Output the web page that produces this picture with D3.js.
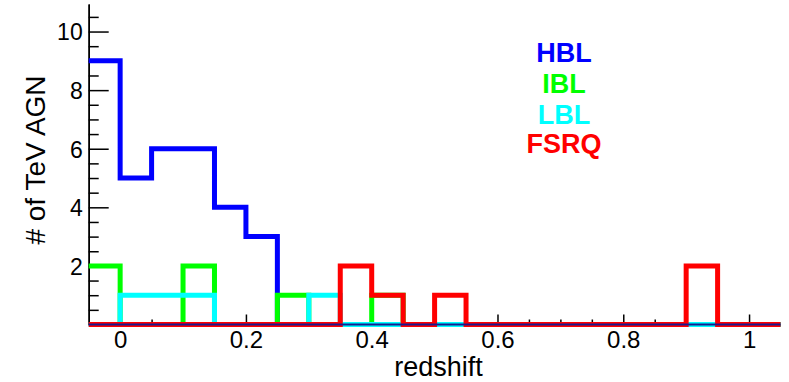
<!DOCTYPE html>
<html>
<head>
<meta charset="utf-8">
<script src="https://cdn.jsdelivr.net/npm/d3@7"></script>
<style>
  html, body { margin: 0; padding: 0; background: #fff; }
  svg { display: block; font-family: "Liberation Sans", Arial, Helvetica, sans-serif; }
</style>
</head>
<body>
<svg id="chart" width="789" height="382"></svg>
<script>
// Redshift bins (lower edges), width 0.05, spanning the x range -0.05 .. 1.05
const binLow = [-0.05, 0, 0.05, 0.1, 0.15, 0.2, 0.25, 0.3, 0.35, 0.4, 0.45,
                0.5, 0.55, 0.6, 0.65, 0.7, 0.75, 0.8, 0.85, 0.9, 0.95, 1.0];
const binWidth = 0.05;

// Counts of TeV AGN per redshift bin, one array per source class
const hbl  = [9, 5, 6, 6, 4, 3, 0, 0, 0, 0, 0, 0, 0, 0, 0, 0, 0, 0, 0, 0, 0, 0];
const ibl  = [2, 0, 0, 2, 0, 0, 1, 0, 0, 1, 0, 0, 0, 0, 0, 0, 0, 0, 0, 0, 0, 0];
const lbl  = [0, 1, 1, 1, 0, 0, 0, 1, 0, 0, 0, 0, 0, 0, 0, 0, 0, 0, 0, 0, 0, 0];
const fsrq = [0, 0, 0, 0, 0, 0, 0, 0, 2, 1, 0, 1, 0, 0, 0, 0, 0, 0, 0, 2, 0, 0];

const seriesNames  = ["HBL", "IBL", "LBL", "FSRQ"];
const seriesColors = ["#0000ff", "#00ff00", "#00ffff", "#ff0000"];

// Axis ticks and labels
const xMajorTicks = [0, 0.2, 0.4, 0.6, 0.8, 1];
const xMinorTicks = [0.05, 0.1, 0.15, 0.25, 0.3, 0.35, 0.45, 0.5, 0.55, 0.65, 0.7, 0.75, 0.85, 0.9, 0.95];
const yMajorTicks = [0, 2, 4, 6, 8, 10];
const yMinorTicks = [0.5, 1, 1.5, 2.5, 3, 3.5, 4.5, 5, 5.5, 6.5, 7, 7.5, 8.5, 9, 9.5, 10.5];
const xTitle = "redshift";
const yTitle = "# of TeV AGN";

const svg = d3.select("#chart");
svg.append("rect").attr("width", 789).attr("height", 382).attr("fill", "#fff");

const plotLeft = 88.7, plotRight = 780.5, plotBottom = 324.5, plotTop = 4;
const x = d3.scaleLinear().domain([-0.05, 1.05]).range([plotLeft, plotRight]);
const y = d3.scaleLinear().domain([0, 10.94]).range([plotBottom, plotTop]);

// ---- y axis: ticks point into the frame, labels on the left
const yAxisMinor = d3.axisLeft(y).tickValues(yMinorTicks).tickSizeInner(-10).tickSizeOuter(0).tickFormat("");
const yAxisMajor = d3.axisLeft(y).tickValues(yMajorTicks).tickSizeInner(-20).tickSizeOuter(0)
  .tickPadding(6).tickFormat(d3.format("d"));

const gyMinor = svg.append("g").attr("transform", `translate(${plotLeft},0)`).call(yAxisMinor);
const gy = svg.append("g").attr("transform", `translate(${plotLeft},0)`).call(yAxisMajor);
[gyMinor, gy].forEach(g => {
  g.select(".domain").attr("stroke", "#000").attr("stroke-width", 1.5);
  g.selectAll(".tick line").attr("stroke", "#000").attr("stroke-width", 1.5);
});
gy.selectAll(".tick text")
  .attr("font-size", 23).attr("fill", "#000")
  .attr("font-family", "Liberation Sans, Arial, sans-serif")
  .attr("dy", "0.36em");
gy.selectAll(".tick").filter(d => d === 0).select("text").remove();

// ---- x axis: ticks point up, labels below
const xAxisMinor = d3.axisBottom(x).tickValues(xMinorTicks).tickSizeInner(-5).tickSizeOuter(0).tickFormat("");
const xAxisMajor = d3.axisBottom(x).tickValues(xMajorTicks).tickSizeInner(-10).tickSizeOuter(0)
  .tickPadding(6).tickFormat(d3.format("~g"));

const gxMinor = svg.append("g").attr("transform", `translate(0,${plotBottom})`).call(xAxisMinor);
const gx = svg.append("g").attr("transform", `translate(0,${plotBottom})`).call(xAxisMajor);
[gxMinor, gx].forEach(g => {
  g.select(".domain").attr("stroke", "#000").attr("stroke-width", 1.5);
  g.selectAll(".tick line").attr("stroke", "#000").attr("stroke-width", 1.5);
});
gx.selectAll(".tick text")
  .attr("font-size", 24).attr("fill", "#000")
  .attr("font-family", "Liberation Sans, Arial, sans-serif");

// ---- axis titles
svg.append("text")
  .attr("x", (plotLeft + plotRight) / 2 + 4).attr("y", 376)
  .attr("text-anchor", "middle")
  .attr("font-size", 27).attr("fill", "#000")
  .text(xTitle);

svg.append("text")
  .attr("transform", "translate(45,160) rotate(-90)")
  .attr("text-anchor", "middle")
  .attr("font-size", 28).attr("fill", "#000")
  .text(yTitle);

// ---- step histograms
const step = d3.line()
  .x(d => x(d[0]))
  .y(d => y(d[1]))
  .curve(d3.curveStepAfter);

function histPoints(values) {
  const pts = values.map((v, i) => [binLow[i], v]);
  pts.push([binLow[binLow.length - 1] + binWidth, values[values.length - 1]]);
  return pts;
}

const allSeries = [hbl, ibl, lbl, fsrq];
svg.append("g").selectAll("path")
  .data(allSeries)
  .join("path")
  .attr("d", d => step(histPoints(d)))
  .attr("fill", "none")
  .attr("stroke", (d, i) => seriesColors[i])
  .attr("stroke-width", 5)
  .attr("stroke-linejoin", "miter")
  .attr("stroke-linecap", "butt");

// thin baseline drawn over the empty bins
svg.append("line")
  .attr("x1", plotLeft).attr("x2", plotRight)
  .attr("y1", y(0)).attr("y2", y(0))
  .attr("stroke", "#1a1a8f").attr("stroke-width", 2);

// ---- legend labels
const legendY = [61.5, 92.5, 123.5, 153];
svg.append("g").selectAll("text")
  .data(seriesNames)
  .join("text")
  .attr("x", 564)
  .attr("y", (d, i) => legendY[i])
  .attr("text-anchor", "middle")
  .attr("font-size", 27)
  .attr("font-weight", "bold")
  .attr("fill", (d, i) => seriesColors[i])
  .text(d => d);
</script>
</body>
</html>
